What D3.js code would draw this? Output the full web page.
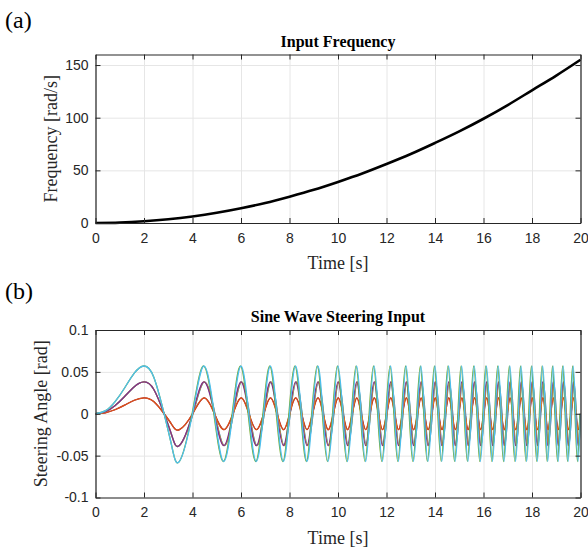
<!DOCTYPE html>
<html>
<head>
<meta charset="utf-8">
<script src="https://cdn.jsdelivr.net/npm/d3@7.9.0/dist/d3.min.js"></script>
<style>
  body { margin: 0; background: #fff; }
  svg { display: block; }
  .tick text { font-family: "Liberation Sans", Arial, sans-serif; font-size: 14px; fill: #262626; }
  .frame path, .frame line { stroke: #262626; }
  .grid line { stroke: #e6e6e6; }
  .grid path { display: none; }
</style>
</head>
<body>
<script>
// ---- data ----
const timeTicks = [0, 2, 4, 6, 8, 10, 12, 14, 16, 18, 20];
const freqTicks = [0, 50, 100, 150];
const angleTicks = [-0.1, -0.05, 0, 0.05, 0.1];

// (a) input frequency, rad/s, sampled each second
const freqTime = [0, 1, 2, 3, 4, 5, 6, 7, 8, 9, 10, 11, 12, 13, 14, 15, 16, 17, 18, 19, 20];
const freqValue = [0, 0.4, 1.6, 3.5, 6.2, 9.7, 14, 19, 25, 31.5, 39, 47, 56, 65.5, 76, 87, 99, 112, 126, 140, 155];

// (b) first slow cycle of the steering wave (relative to peak)
const earlyTimes = [0, 0.4, 0.8, 1.2, 1.6, 2, 2.4, 2.83, 3.15, 3.46];
const earlyLevels = [0, 0.06, 0.25, 0.54, 0.85, 1, 0.77, 0, -0.69, -1];
// then zero crossings / peaks / troughs, in order
const keyTimes = [4, 4.47, 4.90, 5.29, 5.66, 6, 6.32, 6.63, 6.93, 7.21, 7.48, 7.75, 8,
  8.25, 8.49, 8.72, 8.94, 9.17, 9.38, 9.59, 9.80, 10, 10.20, 10.39, 10.58, 10.77, 10.95, 11.14, 11.31,
  11.49, 11.66, 11.83, 12, 12.17, 12.33, 12.49, 12.65, 12.81, 12.96, 13.11, 13.27, 13.42, 13.56, 13.71,
  13.86, 14, 14.14, 14.28, 14.42, 14.56, 14.70, 14.83, 14.97, 15.10, 15.23, 15.36, 15.49, 15.62, 15.75,
  15.87, 16, 16.12, 16.25, 16.37, 16.49, 16.61, 16.73, 16.85, 16.97, 17.09, 17.20, 17.32, 17.44, 17.55,
  17.66, 17.78, 17.89, 18, 18.11, 18.22, 18.33, 18.44, 18.55, 18.65, 18.76, 18.87, 18.97, 19.08, 19.18,
  19.29, 19.39, 19.49, 19.60, 19.70, 19.80, 19.90, 20];
const keyLevels = [0, 1, 0, -1]; // repeats along keyTimes

// one line per run: amplitude [rad] and a small time shift seen at high frequency (drawing order)
const seriesNames = ["s1", "s7", "s2", "s3", "s4", "s5", "s6"];
const seriesAmp = [0.038, 0.019, 0.019, 0.038, 0.038, 0.057, 0.057];
const seriesShift = [0.03, 0.012, 0, 0.02, 0, -0.025, 0];
const seriesColor = ["#0072BD", "#A2142F", "#D95319", "#EDB120", "#7E2F8E", "#77AC30", "#4DBEEE"];

// ---- layout ----
const W = 588, H = 549;
const left = 95.5, right = 580.5;
const topA = 54.5, botA = 223;
const topB = 330, botB = 497.5;

const svg = d3.select("body").append("svg").attr("width", W).attr("height", H);

const x = d3.scaleLinear().domain([0, 20]).range([left, right]);
const yA = d3.scaleLinear().domain([0, 160]).range([botA, topA]);
const yB = d3.scaleLinear().domain([-0.1, 0.1]).range([botB, topB]);

function drawGrid(y, y0, y1, yTicks) {
  const g = svg.append("g");
  g.append("g").attr("class", "grid").attr("transform", `translate(0,${y1})`)
    .call(d3.axisBottom(x).tickValues(timeTicks).tickSize(-(y1 - y0)).tickFormat(""));
  g.append("g").attr("class", "grid").attr("transform", `translate(${left},0)`)
    .call(d3.axisLeft(y).tickValues(yTicks).tickSize(-(right - left)).tickFormat(""));
}

function drawFrame(y, y0, y1, yTicks, title, ylabel, panel, ylabelX, panelY) {
  const g = svg.append("g").attr("class", "frame");
  g.append("g").attr("transform", `translate(0,${y1})`)
    .call(d3.axisBottom(x).tickValues(timeTicks).tickSizeInner(-5).tickSizeOuter(0).tickPadding(10).tickFormat(d => String(d)));
  g.append("g").attr("transform", `translate(0,${y0})`)
    .call(d3.axisTop(x).tickValues(timeTicks).tickSizeInner(-5).tickSizeOuter(0).tickFormat(""));
  g.append("g").attr("transform", `translate(${left},0)`)
    .call(d3.axisLeft(y).tickValues(yTicks).tickSizeInner(-5).tickSizeOuter(0).tickPadding(7).tickFormat(d => String(d)));
  g.append("g").attr("transform", `translate(${right},0)`)
    .call(d3.axisRight(y).tickValues(yTicks).tickSizeInner(-5).tickSizeOuter(0).tickFormat(""));
  g.selectAll(".domain").attr("stroke-width", 1.2);

  svg.append("text").attr("x", (left + right) / 2).attr("y", y0 - 8)
    .attr("text-anchor", "middle").attr("font-family", "Liberation Serif, Times New Roman, serif")
    .attr("font-weight", "bold").attr("font-size", 16).attr("fill", "#000").text(title);
  svg.append("text").attr("x", (left + right) / 2).attr("y", y1 + 46)
    .attr("text-anchor", "middle").attr("font-family", "Liberation Serif, Times New Roman, serif")
    .attr("font-size", 18).attr("fill", "#262626").text("Time [s]");
  svg.append("text").attr("transform", `translate(${ylabelX},${(y0 + y1) / 2}) rotate(-90)`)
    .attr("text-anchor", "middle").attr("font-family", "Liberation Serif, Times New Roman, serif")
    .attr("font-size", 18).attr("fill", "#262626").text(ylabel);
  svg.append("text").attr("x", 5).attr("y", panelY)
    .attr("font-family", "Liberation Serif, Times New Roman, serif")
    .attr("font-size", 24).attr("fill", "#000").text(panel);
}

// panel (a)
drawGrid(yA, topA, botA, freqTicks);
svg.append("path")
  .datum(freqTime.map((t, i) => [t, freqValue[i]]))
  .attr("fill", "none").attr("stroke", "#000").attr("stroke-width", 2.6)
  .attr("d", d3.line().x(d => x(d[0])).y(d => yA(d[1])).curve(d3.curveMonotoneX));
drawFrame(yA, topA, botA, freqTicks, "Input Frequency", "Frequency [rad/s]", "(a)", 57, 28);

// panel (b)
drawGrid(yB, topB, botB, angleTicks);
svg.append("clipPath").attr("id", "clipB").append("rect")
  .attr("x", left).attr("y", topB).attr("width", right - left).attr("height", botB - topB);
const waveG = svg.append("g").attr("clip-path", "url(#clipB)");
const waveLine = d3.line().x(d => x(d[0])).y(d => yB(d[1])).curve(d3.curveNatural);

seriesNames.forEach((name, s) => {
  const amp = seriesAmp[s], sh = seriesShift[s];
  const pts = earlyTimes.map((t, i) => [t, amp * earlyLevels[i]]);
  keyTimes.forEach((t, i) => pts.push([t + sh * Math.min(1, t / 6), amp * keyLevels[i % 4]]));
  waveG.append("path").datum(pts)
    .attr("fill", "none").attr("stroke", seriesColor[s]).attr("stroke-width", 1.3)
    .attr("d", waveLine);
});
drawFrame(yB, topB, botB, angleTicks, "Sine Wave Steering Input", "Steering Angle [rad]", "(b)", 47, 299);
</script>
</body>
</html>
